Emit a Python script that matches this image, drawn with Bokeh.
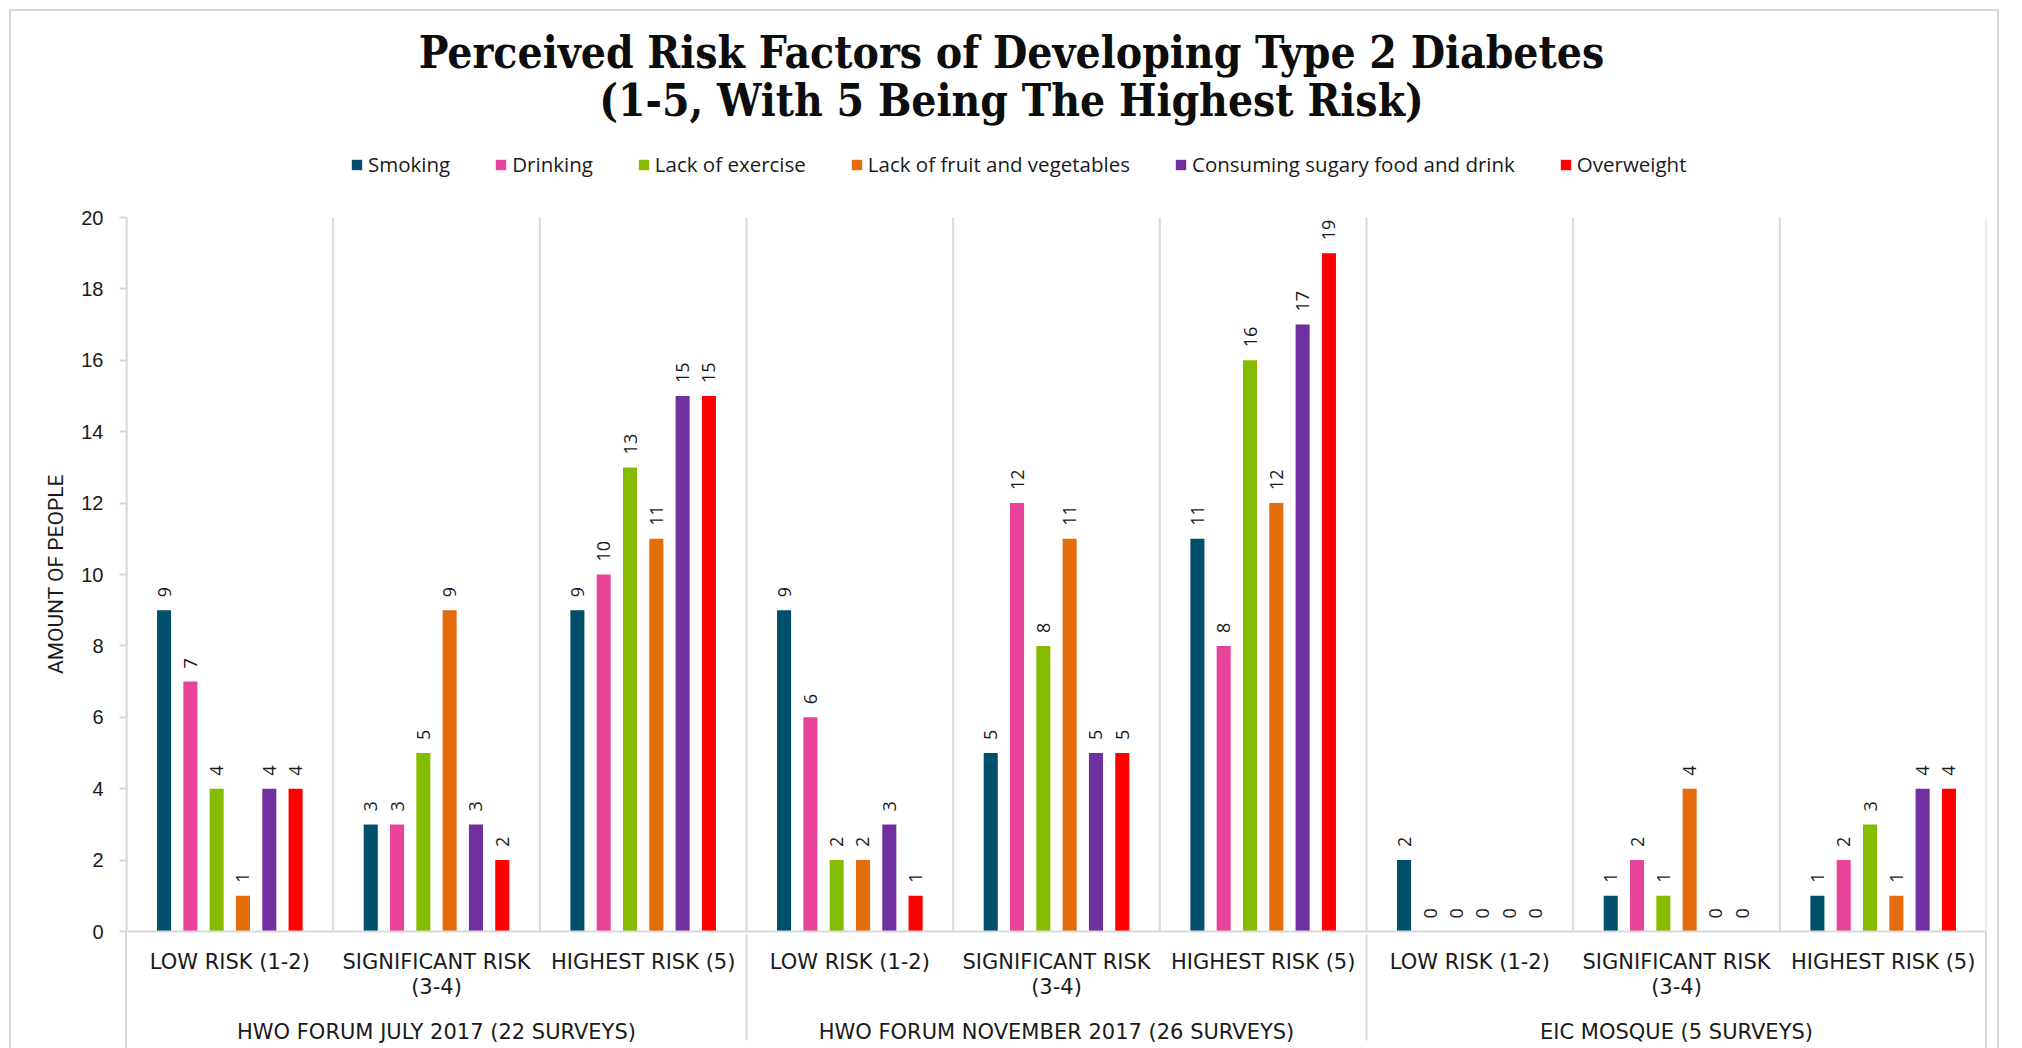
import math
from bokeh.plotting import figure
from bokeh.models import (FactorRange, Range1d, ColumnDataSource, Legend, LegendItem,
                          LabelSet, Label, Title, FixedTicker)
from bokeh.transform import dodge
from bokeh.core.properties import value
from bokeh.embed import file_html
from bokeh.resources import INLINE

# ---------------- data ----------------
title_lines = ["Perceived Risk Factors of Developing Type 2 Diabetes",
               "(1-5, With 5 Being The Highest Risk)"]
groups = ["HWO FORUM JULY 2017 (22 SURVEYS)",
          "HWO FORUM NOVEMBER 2017 (26 SURVEYS)",
          "EIC MOSQUE (5 SURVEYS)"]
risk_levels = ["LOW RISK (1-2)", "SIGNIFICANT RISK\n(3-4)", "HIGHEST RISK (5)"]
series = ["Smoking", "Drinking", "Lack of exercise", "Lack of fruit and vegetables",
          "Consuming sugary food and drink", "Overweight"]
colors = ["#00506B", "#E8439A", "#86BC00", "#E46C0A", "#7030A0", "#FF0000"]

smoking = [9, 3, 9, 9, 5, 11, 2, 1, 1]
drinking = [7, 3, 10, 6, 12, 8, 0, 2, 2]
lack_exercise = [4, 5, 13, 2, 8, 16, 0, 1, 3]
lack_fruit_veg = [1, 9, 11, 2, 11, 12, 0, 4, 1]
sugary = [4, 3, 15, 3, 5, 17, 0, 0, 4]
overweight = [4, 2, 15, 1, 5, 19, 0, 0, 4]
all_values = [smoking, drinking, lack_exercise, lack_fruit_veg, sugary, overweight]

y_ticks = [0, 2, 4, 6, 8, 10, 12, 14, 16, 18, 20]
y_max = 20
y_label = "AMOUNT OF PEOPLE"

# ---------------- layout constants (canvas px) ----------------
W, H = 2022, 1048
FL, FR, FB = 126, 1986, 931   # frame left / right / bottom (value 0)
Y20 = 217                     # screen position of the top tick (value 20)
GRID = "#d9d9d9"
TXT = "#1a1a1a"

factors = [(g, r) for g in groups for r in risk_levels]
x_range = FactorRange(*factors, range_padding=0, factor_padding=0,
                      group_padding=0, subgroup_padding=0)
# the frame reaches the top of the canvas so that the title and the legend
# (drawn inside it) stay visible; the axis itself is bounded to 0..20
y_top = y_max * FB / (FB - Y20)

p = figure(width=W, height=H, x_range=x_range, y_range=Range1d(0, y_top),
           output_backend="svg", toolbar_location=None, title=None,
           min_border_left=FL, min_border_right=W - FR,
           min_border_top=0, min_border_bottom=H - FB)
p.xgrid.visible = False
p.ygrid.visible = False
p.outline_line_color = None
p.background_fill_color = None
p.border_fill_color = None

# chart-area border and the edge rules below the axis, drawn behind the canvas
rule = "linear-gradient(%s, %s)" % (GRID, GRID)
p.styles = {
    "background-color": "white",
    "background-image": ", ".join([rule] * 5),
    "background-position": "9px 9px, 9px 9px, 1997px 9px, %dpx %dpx, %dpx %dpx"
                           % (FL - 1, FB, FR - 1, FB),
    "background-size": "2px 1100px, 1990px 2px, 2px 1100px, 2px %dpx, 2px %dpx"
                       % (H - FB, H - FB),
    "background-repeat": "no-repeat",
}

# category separators inside the plot area
sep_src = ColumnDataSource(dict(x=factors))
p.segment(x0=dodge('x', -0.5, range=x_range), y0=0,
          x1=dodge('x', -0.5, range=x_range), y1=y_max,
          source=sep_src, line_color=GRID, line_width=2)
end_src = ColumnDataSource(dict(x=[factors[-1]]))
p.segment(x0=dodge('x', 0.5, range=x_range), y0=0,
          x1=dodge('x', 0.5, range=x_range), y1=y_max,
          source=end_src, line_color=GRID, line_width=2)

# bars + value labels
step = 0.1273
bar_w = 0.068
items = []
for i, (name, vals, col) in enumerate(zip(series, all_values, colors)):
    off = (i - 2.5) * step
    src = ColumnDataSource(dict(x=factors, v=vals, t=[str(v) for v in vals]))
    r = p.vbar(x=dodge('x', off, range=x_range), top='v', width=bar_w, source=src,
               fill_color=col, line_color=None)
    items.append(LegendItem(label=name, renderers=[r]))
    p.add_layout(LabelSet(x=dodge('x', off, range=x_range), y='v', text='t', source=src,
                          angle=math.pi / 2, text_align='left', text_baseline='middle',
                          y_offset=13, text_font=value("Open Sans"),
                          text_font_size=value("18px"), text_color=TXT))

# legend (inside the frame, above the value-20 line)
legend = Legend(items=items, orientation="horizontal",
                location=(350 - FL, FB - 178),
                glyph_width=13, glyph_height=13, label_standoff=5, spacing=44,
                label_height=28,
                label_text_font="Open Sans", label_text_font_size="20.5px",
                label_text_color=TXT, border_line_color=None,
                background_fill_alpha=0, padding=0, margin=0)
p.add_layout(legend)

# title (two centred lines)
cx = len(factors) / 2
for line, base in zip(title_lines, [52, 100]):
    p.add_layout(Label(x=cx, y=y_max, x_offset=1011 - (FL + FR) / 2, y_offset=Y20 - base,
                       text=line, text_align="center", text_baseline="alphabetic",
                       text_font="DejaVu Serif Condensed, DejaVu Serif",
                       text_font_style="bold", text_font_size="44px",
                       text_color="#0d0d0d"))

# axes
xa = p.xaxis[0]
xa.axis_line_color = GRID
xa.axis_line_width = 2
xa.major_tick_line_color = None
xa.major_tick_out = 0
xa.major_tick_in = 0
xa.major_label_standoff = 18
xa.major_label_text_font = "DejaVu Sans"
xa.major_label_text_font_size = "21px"
xa.major_label_text_color = TXT
xa.major_label_text_line_height = 1.06
xa.group_text_font = "DejaVu Sans"
xa.group_text_font_size = "21px"
xa.group_text_font_style = "normal"
xa.group_text_color = TXT
xa.separator_line_color = GRID
xa.separator_line_width = 2

ya = p.yaxis[0]
ya.bounds = (0, y_max)
ya.ticker = FixedTicker(ticks=y_ticks)
ya.axis_line_color = GRID
ya.axis_line_width = 2
ya.major_tick_line_color = GRID
ya.major_tick_line_width = 2
ya.major_tick_out = 7
ya.major_tick_in = 0
ya.minor_tick_line_color = None
ya.major_label_standoff = 16
ya.major_label_text_font = "Liberation Sans"
ya.major_label_text_font_size = "20px"
ya.major_label_text_color = TXT

# y-axis title, centred on the 0..20 span of the axis
label_len = 199
p.add_layout(Title(text=y_label, align="left",
                   offset=FB - (FB + Y20) / 2 - label_len / 2, standoff=21,
                   text_font="Roboto", text_font_size="21px", text_font_style="normal",
                   text_color=TXT), "left")

open("out.html", "w").write(file_html(p, INLINE))
